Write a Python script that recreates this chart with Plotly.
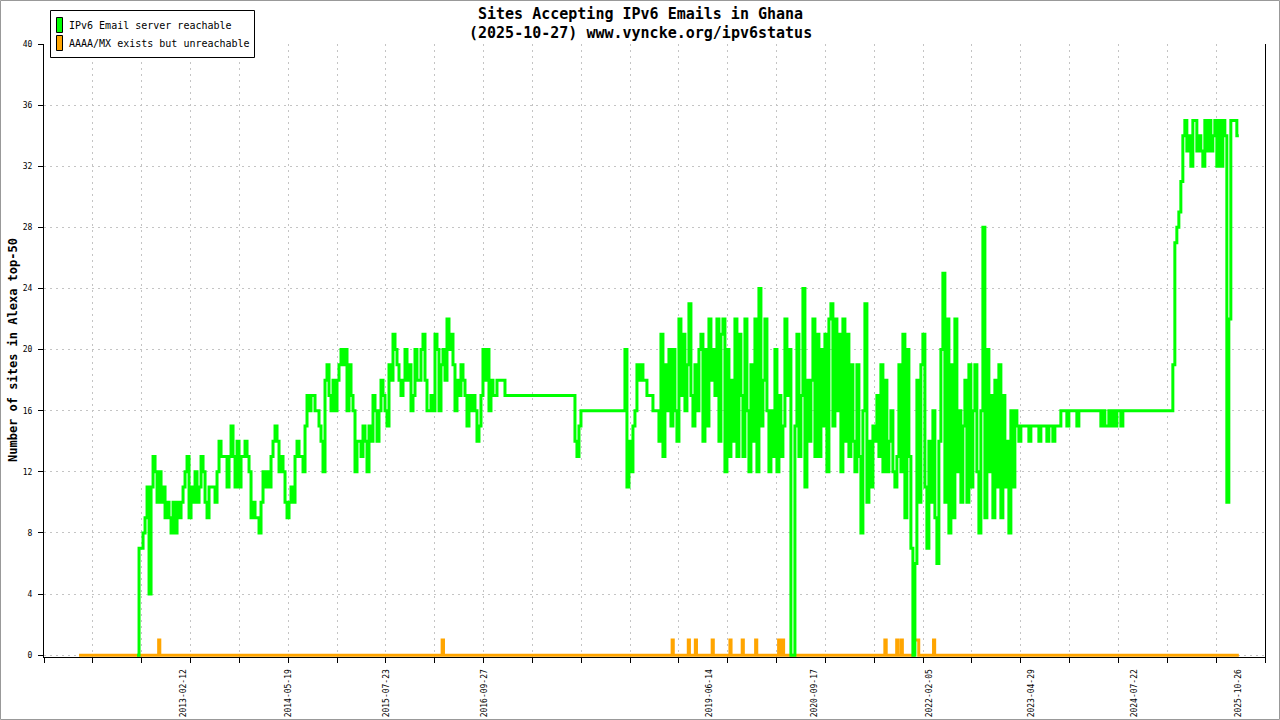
import pandas as pd
import plotly.graph_objects as go

# ---------------- text ----------------
TITLE_LINE1 = "Sites Accepting IPv6 Emails in Ghana"
TITLE_LINE2 = "(2025-10-27) www.vyncke.org/ipv6status"
Y_TITLE = "Number of sites in Alexa top-50"
SERIES_NAMES = ["IPv6 Email server reachable", "AAAA/MX exists but unreachable"]

# ---------------- axes ----------------
x_tick_labels = ["2013-02-12", "2014-05-19", "2015-07-23", "2016-09-27", "2019-06-14",
                 "2020-09-17", "2022-02-05", "2023-04-29", "2024-07-22", "2025-10-26"]
y_ticks = [0, 4, 8, 12, 16, 20, 24, 28, 32, 36, 40]

# ---------------- green series: reachable (evenly spaced samples) ----------------
green_start = "2012-07-23"
green_end = "2025-10-26"

green_2012_2015 = [0, 7, 7, 8, 9, 11, 4, 11, 13, 12,
                   10, 12, 10, 11, 9, 10, 9, 8, 10, 8,
                   10, 9, 10, 11, 12, 13, 9, 11, 10, 12,
                   10, 11, 13, 12, 10, 9, 11, 11, 11, 10,
                   12, 14, 13, 13, 13, 11, 13, 15, 13, 11,
                   14, 11, 13, 13, 14, 13, 12, 9, 10, 9,
                   9, 8, 10, 12, 11, 12, 11, 13, 14, 15,
                   14, 12, 13, 12, 10, 9, 10, 11, 10, 13,
                   14, 13, 13, 12, 15, 17, 16, 17, 17, 16,
                   16, 15, 14, 12, 18, 19, 17, 16, 18, 16,
                   18, 19, 20, 19, 20, 16, 19, 17, 16, 12,
                   14, 14, 13, 15, 14, 12, 15, 14, 17, 16,
                   14, 16]

green_2015_2016 = [18, 17, 16, 15, 19, 18, 21, 20, 19, 18,
                   17, 18, 20, 18, 19, 16, 17, 20, 18, 18,
                   20, 21, 18, 16, 16, 17, 16, 21, 20, 16,
                   19, 20, 18, 22, 20, 21, 19, 16, 18, 17,
                   19, 18, 17, 15, 17, 16, 17, 16, 14, 15,
                   17, 20, 18, 20, 16, 18, 17, 17, 18, 18,
                   18, 18, 17, 17]

green_2017_2018 = [17, 17, 17, 17, 17, 17, 17, 17, 17, 17,
                   17, 17, 17, 17, 17, 17, 17, 17, 17, 17,
                   17, 17, 17, 17, 17, 17, 17, 17, 17, 17,
                   17, 17, 17,
                   14, 13, 15, 16,
                   16, 16, 16, 16, 16, 16, 16, 16, 16, 16,
                   16, 16, 16, 16, 16, 16, 16, 16, 16, 16, 16,
                   20, 11, 14, 12, 15, 16, 19, 18, 19, 18,
                   18, 17, 17, 17, 16, 16,
                   16]

green_2019_2020 = [14, 21, 13, 19, 16, 20, 15, 20, 16, 14,
                   22, 17, 21, 16, 19, 23, 17, 15, 19, 16,
                   20, 21, 14, 20, 15, 22, 18, 20, 17, 22,
                   14, 21, 22, 12, 20, 13, 18, 14, 22, 13,
                   21, 17, 13, 22, 16, 12, 19, 14, 22, 12,
                   24, 15, 18, 22, 16, 12, 16, 13, 20, 12,
                   17, 13, 15, 22, 17, 20, 0, 0, 15, 21,
                   13, 17, 24, 11, 18, 14, 18, 22, 13, 21,
                   13, 20, 15, 21, 12, 22, 23, 15, 22, 16,
                   21]

green_2020_2022 = [12, 22, 14, 21, 13, 19, 14, 12, 19, 13,
                   8, 16, 23, 10, 14, 11, 15, 14, 17, 13,
                   19, 12, 18, 12, 14, 16, 12, 11, 13, 19,
                   12, 21, 9, 20, 13, 7, 0, 6, 18, 10,
                   19, 21, 11, 7, 14, 10, 16, 9, 6, 14,
                   20, 25, 10, 22, 8, 19, 9, 22, 12, 16,
                   10, 15, 18, 10, 19, 11, 16, 19, 12, 8,
                   16, 28, 9, 20, 12, 17, 9, 18, 11, 19,
                   9, 17, 11, 14, 8, 16, 11]

green_2022_2024 = [16, 15, 14, 15, 15, 15, 15, 14, 15, 15,
                   15, 15, 14, 15, 15, 15, 14, 15, 15, 14,
                   15, 15, 15,
                   16, 16, 16, 15, 16, 16, 16, 16, 15, 16,
                   16, 16, 16, 16, 16, 16, 16, 16, 16, 16,
                   15, 16, 15, 15, 16, 15, 16, 15, 16, 16,
                   15, 16,
                   16, 16, 16, 16, 16, 16, 16, 16, 16, 16, 16, 16,
                   16, 16, 16, 16, 16, 16, 16, 16, 16, 16, 16, 16]

green_2024_2025 = [19, 27, 28, 29, 31, 34,
                   35, 33, 34, 32, 35, 35, 33, 34, 33, 32,
                   35, 33, 35, 33, 34, 35, 32, 35, 32, 35,
                   34, 10, 22, 35, 35, 35, 34, 34]

# ---------------- orange series: AAAA/MX exists but unreachable ----------------
orange_start = "2011-11-11"
orange_end = "2025-10-26"
orange_spike_from = ["2012-10-26", "2016-03-25", "2018-12-31", "2019-03-12", "2019-04-12",
                     "2019-06-25", "2019-09-11", "2019-11-04", "2020-01-02", "2020-04-12",
                     "2020-04-27", "2021-07-23", "2021-09-13", "2021-10-02", "2021-11-26",
                     "2022-02-22"]
orange_spike_to = ["2012-10-31", "2016-03-31", "2019-01-05", "2019-03-17", "2019-04-17",
                   "2019-06-30", "2019-09-16", "2019-11-09", "2020-01-07", "2020-04-20",
                   "2020-05-04", "2021-07-29", "2021-09-18", "2021-10-08", "2021-12-19",
                   "2022-02-27"]
orange_spike_level = 1

GREEN = "#00ff00"
ORANGE = "#ffa500"
GRID = "#c4c4c4"
FONT = "DejaVu Sans Mono"

# ---------------- build series ----------------
green_values = (green_2012_2015 + green_2015_2016 + green_2017_2018 + green_2019_2020
                + green_2020_2022 + green_2022_2024 + green_2024_2025)
green_dates = pd.date_range(green_start, green_end, periods=len(green_values))

orange_x = [orange_start]
orange_y = [0]
for s, e in zip(orange_spike_from, orange_spike_to):
    orange_x += [s, s, e, e]
    orange_y += [0, orange_spike_level, orange_spike_level, 0]
orange_x.append(orange_end)
orange_y.append(0)

# ---------------- layout geometry ----------------
W, H = 1280, 720
ML, MR, MT, MB = 44, 15, 44, 63
PW, PH = W - ML - MR, H - MT - MB
x_range = ["2011-06-10", "2026-02-18"]
grid_step_ms = (pd.Timestamp(x_range[1]) - pd.Timestamp(x_range[0])).total_seconds() * 1000 / 25


def px2x(px):
    return (px - ML) / PW


def py2y(py):
    return (H - MB - py) / PH


fig = go.Figure()
fig.add_trace(go.Scatter(x=orange_x, y=orange_y, mode="lines", name=SERIES_NAMES[1],
                         line=dict(color=ORANGE, width=3), showlegend=False,
                         hoverinfo="skip"))
fig.add_trace(go.Scatter(x=green_dates, y=green_values, mode="lines", name=SERIES_NAMES[0],
                         line=dict(color=GREEN, width=3, shape="hv"), connectgaps=True,
                         showlegend=False))

shapes = []
annotations = []

# outer image border
shapes.append(dict(type="rect", xref="paper", yref="paper",
                   x0=px2x(0.5), x1=px2x(W - 0.5), y0=py2y(H - 0.5), y1=py2y(0.5),
                   line=dict(color="#999999", width=1), fillcolor="rgba(0,0,0,0)",
                   layer="above"))

# legend box
shapes.append(dict(type="rect", xref="paper", yref="paper",
                   x0=px2x(50.5), x1=px2x(254.5), y0=py2y(57.5), y1=py2y(10.5),
                   line=dict(color="black", width=1), fillcolor="white", layer="above"))
for i, (name, col) in enumerate(zip(SERIES_NAMES, [GREEN, ORANGE])):
    top = 17 + i * 18
    shapes.append(dict(type="rect", xref="paper", yref="paper",
                       x0=px2x(56.5), x1=px2x(62.5), y0=py2y(top + 15.5), y1=py2y(top + 0.5),
                       line=dict(color="black", width=1), fillcolor=col, layer="above"))
    annotations.append(dict(text=name, xref="paper", yref="paper",
                            x=px2x(67), y=py2y(top + 8.5), xanchor="left", yanchor="middle",
                            showarrow=False, font=dict(family=FONT, size=10, color="black")))

# titles
annotations.append(dict(text="<b>" + TITLE_LINE1 + "</b>", xref="paper", yref="paper",
                        x=px2x(640), y=py2y(13.5), xanchor="center", yanchor="middle",
                        showarrow=False, font=dict(family=FONT, size=15, color="black")))
annotations.append(dict(text="<b>" + TITLE_LINE2 + "</b>", xref="paper", yref="paper",
                        x=px2x(640), y=py2y(32.5), xanchor="center", yanchor="middle",
                        showarrow=False, font=dict(family=FONT, size=15, color="black")))
annotations.append(dict(text="<b>" + Y_TITLE + "</b>", xref="paper", yref="paper",
                        x=px2x(13), y=py2y(350), xanchor="center", yanchor="middle",
                        textangle=-90, showarrow=False,
                        font=dict(family=FONT, size=12, color="black")))

fig.update_layout(
    width=W, height=H, autosize=False,
    margin=dict(l=ML, r=MR, t=MT, b=MB, pad=0, autoexpand=False),
    paper_bgcolor="white", plot_bgcolor="white",
    showlegend=False,
    font=dict(family=FONT, size=8, color="black"),
    shapes=shapes, annotations=annotations,
    xaxis=dict(
        type="date", range=x_range, automargin=False,
        tickmode="array", tickvals=x_tick_labels, ticktext=x_tick_labels,
        tickangle=-90, ticks="", ticklabelstandoff=8,
        tickfont=dict(family=FONT, size=8, color="black"),
        showgrid=False, zeroline=False,
        showline=True, linecolor="black", linewidth=1,
        minor=dict(tickmode="linear", tick0=x_range[0], dtick=grid_step_ms,
                   ticks="outside", ticklen=5, tickcolor="black", tickwidth=1,
                   showgrid=True, gridcolor=GRID, griddash="2px,4px", gridwidth=1),
    ),
    yaxis=dict(
        range=[-0.12, 40], automargin=False, tickmode="array", tickvals=y_ticks,
        ticktext=[str(v) for v in y_ticks],
        ticks="outside", ticklen=5, tickcolor="black", ticklabelstandoff=4,
        tickfont=dict(family=FONT, size=8, color="black"),
        showgrid=True, gridcolor=GRID, griddash="2px,4px", gridwidth=1,
        zeroline=False, showline=True, linecolor="black", linewidth=1, mirror=True,
    ),
)

fig.write_html("out.html", include_plotlyjs=True,
               config={"displayModeBar": False, "responsive": False},
               post_script="document.body.style.margin='0';document.body.style.overflow='hidden';")
